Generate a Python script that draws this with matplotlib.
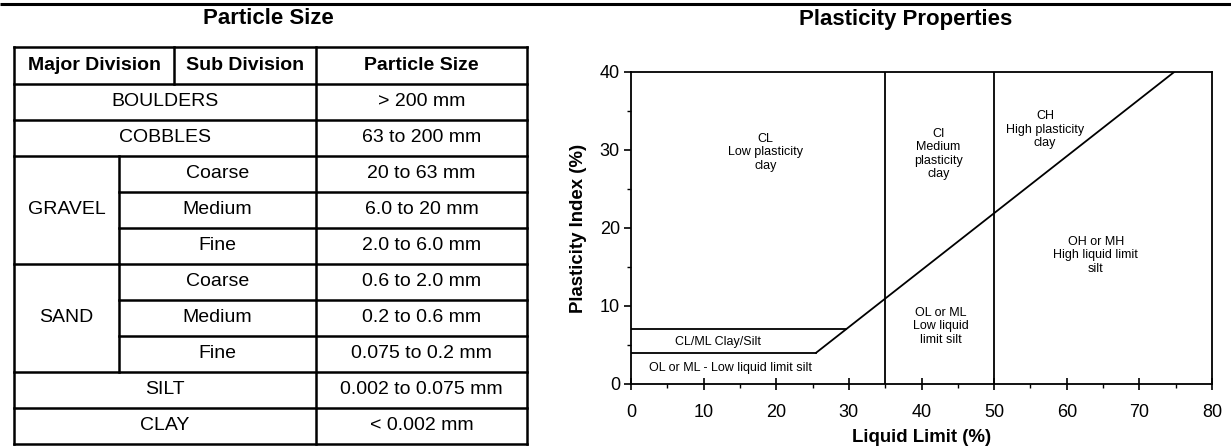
import matplotlib
matplotlib.use("Agg")
import matplotlib.pyplot as plt
from matplotlib.ticker import MultipleLocator

plt.rcParams['font.family'] = ['Liberation Sans', 'DejaVu Sans']

# ---------------- data ----------------
table_header = ["Major Division", "Sub Division", "Particle Size"]
major_single = ["BOULDERS", "COBBLES"]
single_sizes = ["> 200 mm", "63 to 200 mm"]
group_names = ["GRAVEL", "SAND"]
sub_divisions = ["Coarse", "Medium", "Fine"]
gravel_sizes = ["20 to 63 mm", "6.0 to 20 mm", "2.0 to 6.0 mm"]
sand_sizes = ["0.6 to 2.0 mm", "0.2 to 0.6 mm", "0.075 to 0.2 mm"]
fine_names = ["SILT", "CLAY"]
fine_sizes = ["0.002 to 0.075 mm", "< 0.002 mm"]

ll_divisions = [35, 50]            # liquid limit boundaries (%)
a_line_slope = 0.73                # A-line: PI = 0.73 (LL - 20)
a_line_ll0 = 20
clml_band = [4, 7]                 # CL/ML band limits on PI (%)
pi_max = 40
ll_max = 80

zone_labels = ["CL\nLow plasticity\nclay",
               "CI\nMedium\nplasticity\nclay",
               "CH\nHigh plasticity\nclay",
               "OH or MH\nHigh liquid limit\nsilt",
               "OL or ML\nLow liquid\nlimit silt",
               "CL/ML Clay/Silt",
               "OL or ML - Low liquid limit silt"]
zone_ll = [18.5, 42.3, 57.0, 64.0, 42.7, 12.0, 13.7]
zone_pi = [29.7, 29.5, 32.6, 16.5, 7.4, 5.4, 2.1]

# ---------------- figure ----------------
W, H = 1231, 446
fig = plt.figure(figsize=(W / 100, H / 100), dpi=100)

bg = fig.add_axes([0, 0, 1, 1])
bg.set_xlim(0, W)
bg.set_ylim(H, 0)
bg.axis('off')

# top rule
bg.plot([0, W], [4, 4], color='black', lw=2.2, solid_capstyle='butt')

bg.text(268, 19, "Particle Size", ha='center', va='center', fontsize=16, fontweight='bold')
bg.text(906, 19, "Plasticity Properties", ha='center', va='center', fontsize=16, fontweight='bold')

# table geometry
x0, xg, xh, xp, x1 = 14, 119, 174, 316, 527
top, hdr_bot, bottom = 47, 83.5, 444
nrows = 2 + 3 + 3 + 2
rh = (bottom - hdr_bot) / nrows
tlw = 1.8
fs = 14

def hline(y, xa, xb):
    bg.plot([xa, xb], [y, y], color='black', lw=tlw, solid_capstyle='projecting')

def vline(x, ya, yb):
    bg.plot([x, x], [ya, yb], color='black', lw=tlw, solid_capstyle='projecting')

# outer box
hline(top, x0, x1)
hline(bottom, x0, x1)
vline(x0, top, bottom)
vline(x1, top, bottom)
vline(xp, top, bottom)
vline(xh, top, hdr_bot)
hline(hdr_bot, x0, x1)

for txt, xa, xb in zip(table_header, [x0, xh, xp], [xh, xp, x1]):
    bg.text((xa + xb) / 2, (top + hdr_bot) / 2, txt, ha='center', va='center',
            fontsize=fs, fontweight='bold')

row = 0
def row_mid(r):
    return hdr_bot + (r + 0.5) * rh

def row_bot(r):
    return hdr_bot + (r + 1) * rh

for name, size in zip(major_single, single_sizes):
    bg.text((x0 + xp) / 2, row_mid(row), name, ha='center', va='center', fontsize=fs)
    bg.text((xp + x1) / 2, row_mid(row), size, ha='center', va='center', fontsize=fs)
    hline(row_bot(row), x0, x1)
    row += 1

for gname, sizes in zip(group_names, [gravel_sizes, sand_sizes]):
    g0 = row
    for k, (sub, size) in enumerate(zip(sub_divisions, sizes)):
        bg.text((xg + xp) / 2, row_mid(row), sub, ha='center', va='center', fontsize=fs)
        bg.text((xp + x1) / 2, row_mid(row), size, ha='center', va='center', fontsize=fs)
        if k < 2:
            hline(row_bot(row), xg, x1)
        else:
            hline(row_bot(row), x0, x1)
        row += 1
    vline(xg, row_bot(g0) - rh, row_bot(row - 1))
    bg.text((x0 + xg) / 2, row_mid(g0 + 1), gname, ha='center', va='center', fontsize=fs)

for name, size in zip(fine_names, fine_sizes):
    bg.text((x0 + xp) / 2, row_mid(row), name, ha='center', va='center', fontsize=fs)
    bg.text((xp + x1) / 2, row_mid(row), size, ha='center', va='center', fontsize=fs)
    if row < nrows - 1:
        hline(row_bot(row), x0, x1)
    row += 1

# ---------------- plasticity chart ----------------
L, R, T, B = 631, 1212, 72, 384
ax = fig.add_axes([L / W, (H - B) / H, (R - L) / W, (B - T) / H])
ax.set_xlim(0, ll_max)
ax.set_ylim(0, pi_max)

lw = 1.3
for ll in ll_divisions:
    ax.plot([ll, ll], [0, pi_max], color='black', lw=lw)

a_ll_start = a_line_ll0 + clml_band[0] / a_line_slope
a_ll_end = a_line_ll0 + pi_max / a_line_slope
ax.plot([a_ll_start, a_ll_end], [clml_band[0], pi_max], color='black', lw=lw)
for pi in clml_band:
    ax.plot([0, a_line_ll0 + pi / a_line_slope], [pi, pi], color='black', lw=lw)

for lab, xx, yy in zip(zone_labels, zone_ll, zone_pi):
    ax.text(xx, yy, lab, ha='center', va='center', fontsize=9, linespacing=1.15)

for s in ax.spines.values():
    s.set_linewidth(1.3)

ax.xaxis.set_major_locator(MultipleLocator(10))
ax.xaxis.set_minor_locator(MultipleLocator(5))
ax.yaxis.set_major_locator(MultipleLocator(10))
ax.yaxis.set_minor_locator(MultipleLocator(5))
ax.tick_params(axis='x', which='major', direction='inout', length=9, width=1.2, labelsize=13, pad=10)
ax.tick_params(axis='x', which='minor', direction='out', length=3, width=1)
ax.tick_params(axis='y', which='major', direction='out', length=5, width=1.2, labelsize=13, pad=3)
ax.tick_params(axis='y', which='minor', direction='out', length=3, width=1)

ax.set_xlabel("Liquid Limit (%)", fontsize=13.4, fontweight='bold', labelpad=6)
ax.set_ylabel("Plasticity Index (%)", fontsize=13.4, fontweight='bold', labelpad=9)

fig.savefig("out.png", dpi=100)
